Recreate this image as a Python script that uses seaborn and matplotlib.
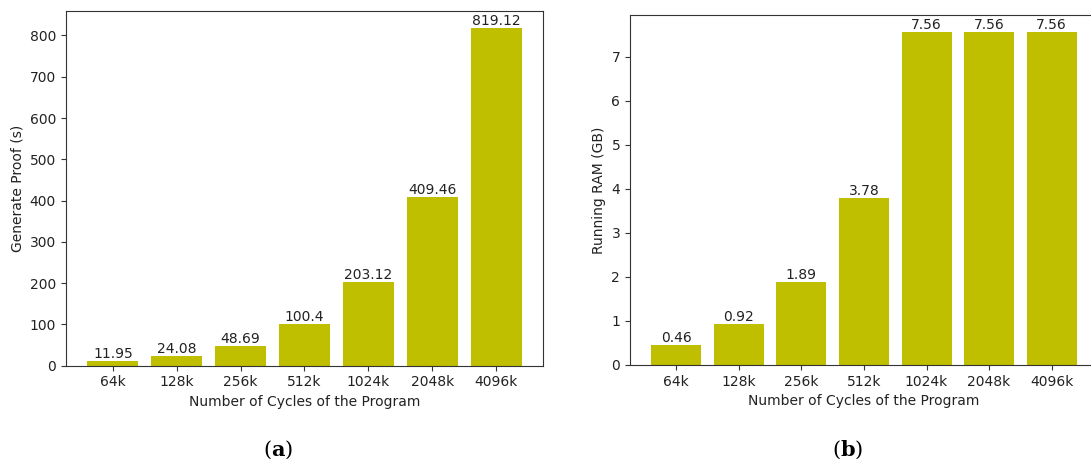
import matplotlib
matplotlib.use("Agg")
import matplotlib.pyplot as plt
import seaborn as sns
import pandas as pd

cycles = ["64k", "128k", "256k", "512k", "1024k", "2048k", "4096k"]
proof_time = [11.95, 24.08, 48.69, 100.4, 203.12, 409.46, 819.12]
ram_gb = [0.46, 0.92, 1.89, 3.78, 7.56, 7.56, 7.56]

plt.rcParams['mathtext.fontset'] = 'dejavuserif'

df = pd.DataFrame({"cycles": cycles, "proof": proof_time, "ram": ram_gb})

fig = plt.figure(figsize=(10.91, 4.59), dpi=100)
ax1 = fig.add_axes([0.0602, 0.2033, 0.4378, 0.7734])
ax2 = fig.add_axes([0.5774, 0.2048, 0.429, 0.7619])

bar_color = (0.75, 0.75, 0.0)

for ax, col, ylabel in [(ax1, "proof", "Generate Proof (s)"),
                        (ax2, "ram", "Running RAM (GB)")]:
    sns.barplot(data=df, x="cycles", y=col, ax=ax, color=bar_color,
                saturation=1, width=0.8, errorbar=None)
    ax.bar_label(ax.containers[0], fmt="%g", fontsize=10, color="#222222")
    ax.set_xlim(-0.74, 6.74)
    ymax = max(df[col])
    ax.set_ylim(0, ymax * 1.05)
    ax.set_xlabel("Number of Cycles of the Program", fontsize=10, color="#222222")
    ax.set_ylabel(ylabel, fontsize=10, color="#222222")
    ax.tick_params(colors="#333333", labelcolor="#222222")
    for s in ax.spines.values():
        s.set_color("#333333")

fig.text(0.2548, 0.021, r'$(\mathbf{a})$', ha='center', va='center', fontsize=15)
fig.text(0.777, 0.021, r'$(\mathbf{b})$', ha='center', va='center', fontsize=15)

fig.savefig("out.png", dpi=100)
